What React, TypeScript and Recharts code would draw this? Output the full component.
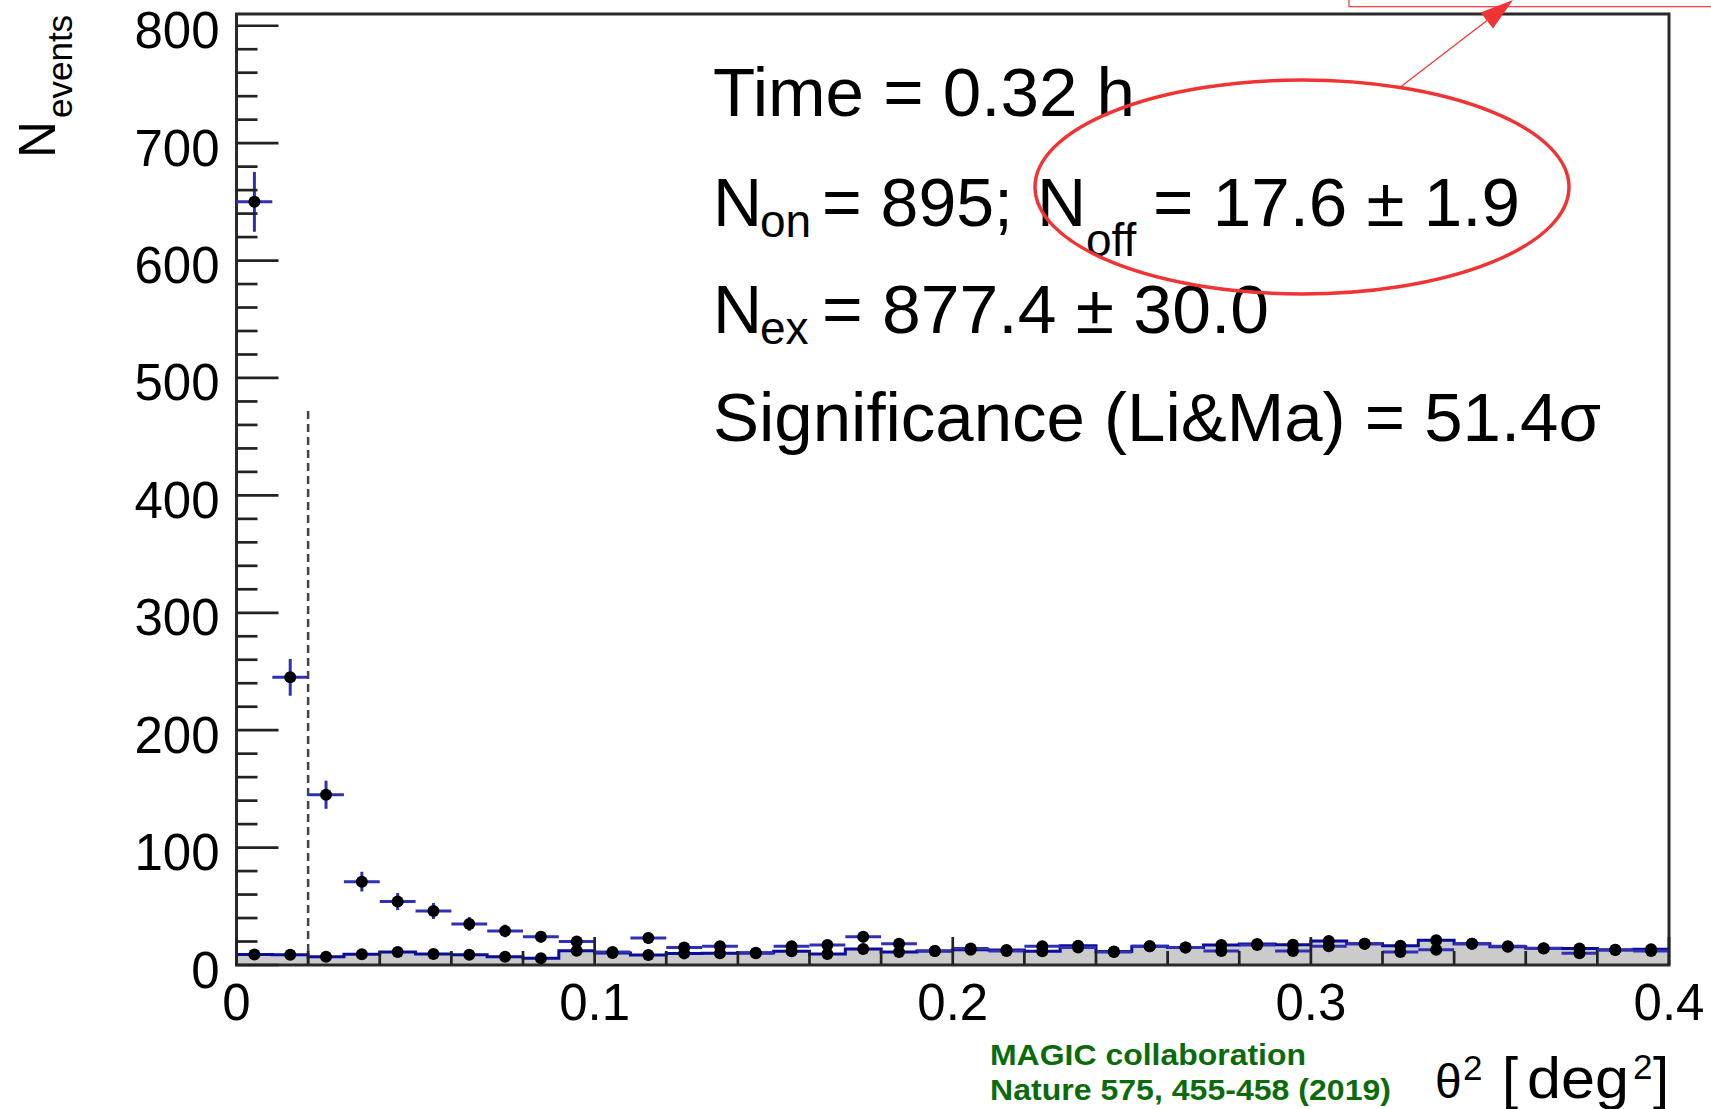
import React from "react";
import {
  ComposedChart,
  XAxis,
  YAxis,
  Scatter,
  Area,
  ErrorBar,
  ReferenceLine,
  ReferenceArea,
} from "recharts";

// ---- data ----
const thetaSq = [
  0.005, 0.015, 0.025, 0.035, 0.045, 0.055, 0.065, 0.075, 0.085, 0.095,
  0.105, 0.115, 0.125, 0.135, 0.145, 0.155, 0.165, 0.175, 0.185, 0.195,
  0.205, 0.215, 0.225, 0.235, 0.245, 0.255, 0.265, 0.275, 0.285, 0.295,
  0.305, 0.315, 0.325, 0.335, 0.345, 0.355, 0.365, 0.375, 0.385, 0.395,
];
const onCounts = [
  650, 245, 145, 71, 54, 46, 35, 29, 24, 20,
  11, 23, 15, 16, 10, 16, 17, 24, 18, 12,
  14, 12, 16, 15, 11, 16, 15, 12, 17, 12,
  16, 18, 11, 13, 18, 16, 14, 10, 13, 12,
];
const onErrors = [
  25.5, 15.7, 12.0, 8.4, 7.3, 6.8, 5.9, 5.4, 4.9, 4.5,
  3.3, 4.8, 3.9, 4.0, 3.2, 4.0, 4.1, 4.9, 4.2, 3.5,
  3.7, 3.5, 4.0, 3.9, 3.3, 4.0, 3.9, 3.5, 4.1, 3.5,
  4.0, 4.2, 3.3, 3.6, 4.2, 4.0, 3.7, 3.2, 3.6, 3.5,
];
const offCounts = [
  8.9, 8.7, 7.1, 9.1, 11.1, 9.4, 8.8, 7.1, 5.7, 12.2,
  10.3, 8.5, 9.9, 10.0, 10.5, 11.7, 9.4, 13.6, 11.0, 12.0,
  13.0, 12.8, 11.8, 16.5, 11.5, 16.0, 15.0, 17.0, 17.8, 17.3,
  20.5, 18.0, 16.5, 21.0, 18.0, 15.5, 14.2, 14.0, 12.8, 13.5,
];
const binWidth = 0.01;
const thetaCut = 0.02;
const cutLineTop = 474;

const xTicks = [
  0, 0.02, 0.04, 0.06, 0.08, 0.1, 0.12, 0.14, 0.16, 0.18, 0.2,
  0.22, 0.24, 0.26, 0.28, 0.3, 0.32, 0.34, 0.36, 0.38, 0.4,
];
const yTicks = [
  0, 20, 40, 60, 80, 100, 120, 140, 160, 180, 200, 220, 240, 260, 280,
  300, 320, 340, 360, 380, 400, 420, 440, 460, 480, 500, 520, 540, 560,
  580, 600, 620, 640, 660, 680, 700, 720, 740, 760, 780, 800,
];
const xDomain = [0, 0.4];
const yDomain = [0, 810];

// tables built from the arrays
const onData = thetaSq.map((x, i) => ({
  x,
  y: onCounts[i],
  ex: binWidth / 2,
  ey: onErrors[i],
}));
const offData = thetaSq.map((x, i) => ({ x, y: offCounts[i] }));
const offStep = [
  ...thetaSq.map((x, i) => ({ x: x - binWidth / 2, y: offCounts[i] })),
  { x: thetaSq[thetaSq.length - 1] + binWidth / 2, y: offCounts[offCounts.length - 1] },
];

const FONT = "'Liberation Sans', Arial, Helvetica, sans-serif";
const AXIS_COLOR = "#222";

const YTick = (props: any) => {
  const { x, y, payload } = props;
  const v = payload.value;
  const major = Math.round(v) % 100 === 0;
  return (
    <g>
      <line x1={x} x2={x + (major ? 42 : 21)} y1={y} y2={y} stroke={AXIS_COLOR} strokeWidth={2.7} />
      {major && (
        <text x={x - 17} y={y + 22.5} textAnchor="end" fontSize={51} fontFamily={FONT} fill="#000">
          {String(v)}
        </text>
      )}
    </g>
  );
};

const XTick = (props: any) => {
  const { x, y, payload } = props;
  const v = payload.value;
  const major = Math.abs(v * 10 - Math.round(v * 10)) < 1e-6;
  return (
    <g>
      <line x1={x} x2={x} y1={y} y2={y - (major ? 28 : 14)} stroke={AXIS_COLOR} strokeWidth={2.7} />
      {major && (
        <text x={x} y={y + 55} textAnchor="middle" fontSize={51} fontFamily={FONT} fill="#000">
          {String(Number(v.toFixed(1)))}
        </text>
      )}
    </g>
  );
};

const Dot = (props: any) => {
  const { cx, cy } = props;
  if (cx == null || cy == null) return null;
  return <circle cx={cx} cy={cy} r={6} fill="#000" />;
};

const RED = "#f03434";

export default function App() {
  return (
    <div style={{ position: "absolute", left: 0, top: 0, width: 1711, height: 1109, background: "#fff" }}>
      <ComposedChart
        width={1711}
        height={1109}
        margin={{ top: 14, right: 42, bottom: 0, left: 0 }}
      >
        <XAxis
          type="number"
          dataKey="x"
          domain={xDomain}
          ticks={xTicks}
          interval={0}
          allowDataOverflow
          height={144}
          tickSize={0}
          tickMargin={0}
          tickLine={false}
          axisLine={false}
          tick={<XTick />}
        />
        <YAxis
          type="number"
          dataKey="y"
          domain={yDomain}
          ticks={yTicks}
          interval={0}
          allowDataOverflow
          width={236.5}
          tickSize={0}
          tickMargin={0}
          tickLine={false}
          axisLine={false}
          tick={<YTick />}
        />
        <Area
          data={offStep}
          dataKey="y"
          type="stepAfter"
          fill="#cbcbcb"
          fillOpacity={1}
          stroke="#0c0c9c"
          strokeWidth={3}
          isAnimationActive={false}
          dot={false}
          activeDot={false}
        />
        <ReferenceLine
          segment={[
            { x: thetaCut, y: 0 },
            { x: thetaCut, y: cutLineTop },
          ]}
          stroke="#444"
          strokeWidth={2.5}
          strokeDasharray="8 5"
        />
        <Scatter data={offData} dataKey="y" fill="#000" shape={<Dot />} isAnimationActive={false} />
        <Scatter data={onData} dataKey="y" fill="#000" shape={<Dot />} isAnimationActive={false}>
          <ErrorBar dataKey="ex" direction="x" width={0} stroke="#3030b4" strokeWidth={3} isAnimationActive={false} />
          <ErrorBar dataKey="ey" direction="y" width={0} stroke="#3030b4" strokeWidth={3} isAnimationActive={false} />
        </Scatter>
        <ReferenceArea
          x1={xDomain[0]}
          x2={xDomain[1]}
          y1={yDomain[0]}
          y2={yDomain[1]}
          fill="none"
          fillOpacity={0}
          stroke="#2a2a2a"
          strokeWidth={3}
        />
      </ComposedChart>

      <svg
        width={1711}
        height={1109}
        style={{ position: "absolute", left: 0, top: 0, pointerEvents: "none" }}
      >
        {/* y axis title */}
        <text transform="translate(55,158) rotate(-90)" fontSize={51} fontFamily={FONT} fill="#000">N</text>
        <text transform="translate(71.7,118) rotate(-90)" fontSize={35} fontFamily={FONT} fill="#000">events</text>

        {/* x axis title */}
        <g fontFamily={FONT} fill="#000">
          <text x={1435} y={1098} fontSize={48}>θ</text>
          <text x={1463} y={1080} fontSize={35}>2</text>
          <text x={1502} y={1098} fontSize={58}>[</text>
          <text x={1527} y={1098} fontSize={58} textLength={102} lengthAdjust="spacingAndGlyphs">deg</text>
          <text x={1633} y={1079} fontSize={35}>2</text>
          <text x={1653} y={1098} fontSize={58}>]</text>
        </g>

        {/* statistics box text */}
        <g fontFamily={FONT} fill="#000">
          <text x={713} y={116} fontSize={68} textLength={422} lengthAdjust="spacingAndGlyphs">Time = 0.32 h</text>

          <text x={713} y={226} fontSize={68}>N</text>
          <text x={760} y={237} fontSize={46}>on</text>
          <text x={822} y={226} fontSize={68}>= 895;</text>
          <text x={1037} y={226} fontSize={68}>N</text>
          <text x={1086} y={256} fontSize={46}>off</text>
          <text x={1153} y={226} fontSize={68} textLength={367} lengthAdjust="spacingAndGlyphs">= 17.6 ± 1.9</text>

          <text x={713} y={333} fontSize={68}>N</text>
          <text x={760} y={344} fontSize={46}>ex</text>
          <text x={822} y={333} fontSize={68} textLength={447} lengthAdjust="spacingAndGlyphs">= 877.4 ± 30.0</text>

          <text x={713} y={441} fontSize={68} textLength={888} lengthAdjust="spacingAndGlyphs">Significance (Li&amp;Ma) = 51.4σ</text>
        </g>

        {/* credit */}
        <g fontFamily={FONT} fill="#0b6b0b" fontWeight="bold">
          <text x={990} y={1065} fontSize={30} textLength={316} lengthAdjust="spacingAndGlyphs">MAGIC collaboration</text>
          <text x={990} y={1100} fontSize={30} textLength={401} lengthAdjust="spacingAndGlyphs">Nature 575, 455-458 (2019)</text>
        </g>

        {/* red annotation */}
        <ellipse cx={1302} cy={187} rx={267} ry={107} fill="none" stroke={RED} strokeWidth={3.5} />
        <line x1={1401.7} y1={86} x2={1487} y2={20.5} stroke={RED} strokeWidth={1.2} />
        <polygon points="1513,0 1493,28.4 1480.6,12.6" fill={RED} />
        <rect x={1349} y={-5} width={400} height={11.7} fill="none" stroke={RED} strokeWidth={1.2} />
      </svg>
    </div>
  );
}
